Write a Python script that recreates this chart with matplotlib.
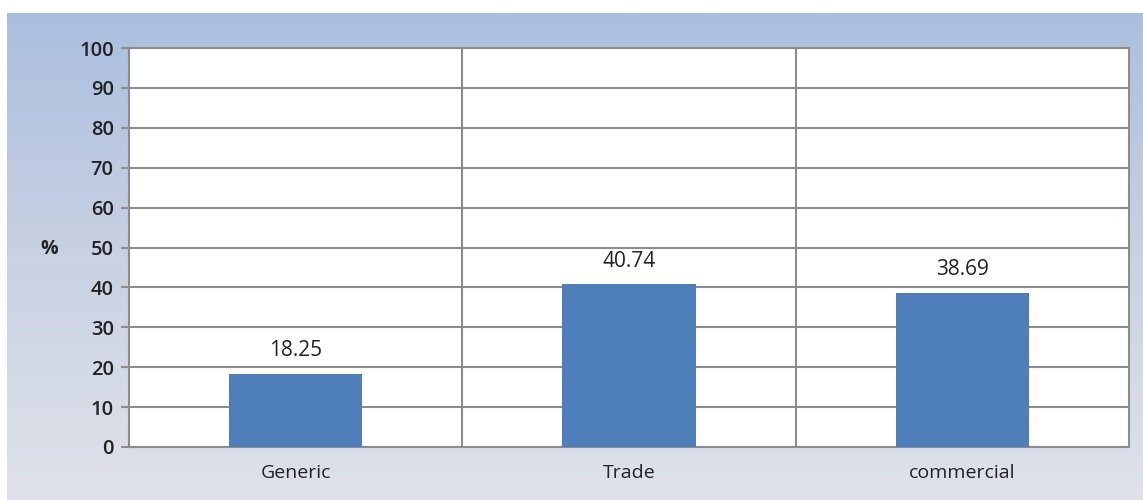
import numpy as np
import matplotlib.pyplot as plt
from matplotlib.colors import LinearSegmentedColormap

# Data
categories = ['Generic', 'Trade', 'commercial']
values = [18.25, 40.74, 38.69]
yticks = list(range(0, 101, 10))

bar_color = '#4f7fba'
grid_color = '#8c8c8c'
text_color = '#222222'

fig = plt.figure(figsize=(11.43, 5.0), dpi=100)
plt.rcParams['font.family'] = ['Open Sans', 'DejaVu Sans']

# Gradient backdrop (light blue top fading to grey-white)
bg = fig.add_axes([7 / 1143, 0, 1 - 7 / 1143, 1 - 13 / 500])
bg.set_axis_off()
cmap = LinearSegmentedColormap.from_list('bg', ['#dfe2ea', '#c9d1e2', '#aabfdf'])
grad = np.linspace(0, 1, 256).reshape(-1, 1)
bg.imshow(grad, aspect='auto', cmap=cmap, origin='lower', extent=[0, 1, 0, 1])
bg.set_zorder(0)

# Plot area
left, right, top, bottom = 129, 1129, 48, 447
ax = fig.add_axes([left / 1143, 1 - bottom / 500, (right - left) / 1143, (bottom - top) / 500])
ax.set_zorder(1)
ax.set_facecolor('white')

x = np.arange(len(categories))
ax.bar(x, values, width=0.4, color=bar_color, zorder=3)

ax.set_xlim(-0.5, len(categories) - 0.5)
ax.set_ylim(0, 100)
ax.set_yticks(yticks)
ax.set_yticklabels([str(t) for t in yticks], fontsize=14.5, color=text_color, fontweight='semibold')
ax.set_xticks(x)
ax.set_xticklabels(categories, fontsize=14, color=text_color)
ax.tick_params(axis='x', length=0, pad=12)
ax.tick_params(axis='y', length=6, width=1.5, color=grid_color, pad=5)

ax.grid(axis='y', color=grid_color, linewidth=1.5, zorder=0)
for sep in [0.5, 1.5]:
    ax.axvline(sep, color=grid_color, linewidth=1.5, zorder=1)
for s in ax.spines.values():
    s.set_color(grid_color)
    s.set_linewidth(1.5)

for xi, v in zip(x, values):
    ax.text(xi, v + 3.2, f'{v:.2f}', ha='center', va='bottom', fontsize=15, color=text_color)

fig.text(49 / 1143, 1 - 249 / 500, '%', ha='center', va='center', fontsize=14,
         fontweight='bold', color=text_color)

fig.savefig('out.png', dpi=100)
